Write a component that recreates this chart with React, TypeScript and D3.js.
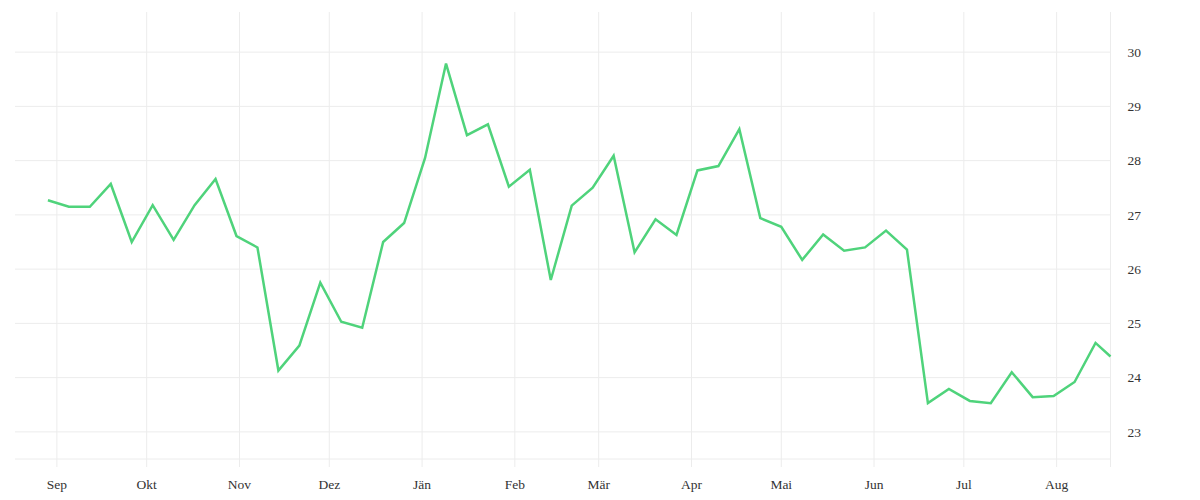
import React from "react";
import * as d3 from "d3";

const dates: string[] = [
  "2017-08-29", "2017-09-05", "2017-09-12", "2017-09-19", "2017-09-26",
  "2017-10-03", "2017-10-10", "2017-10-17", "2017-10-24", "2017-10-31",
  "2017-11-07", "2017-11-14", "2017-11-21", "2017-11-28", "2017-12-05",
  "2017-12-12", "2017-12-19", "2017-12-26", "2018-01-02", "2018-01-09",
  "2018-01-16", "2018-01-23", "2018-01-30", "2018-02-06", "2018-02-13",
  "2018-02-20", "2018-02-27", "2018-03-06", "2018-03-13", "2018-03-20",
  "2018-03-27", "2018-04-03", "2018-04-10", "2018-04-17", "2018-04-24",
  "2018-05-01", "2018-05-08", "2018-05-15", "2018-05-22", "2018-05-29",
  "2018-06-05", "2018-06-12", "2018-06-19", "2018-06-26", "2018-07-03",
  "2018-07-10", "2018-07-17", "2018-07-24", "2018-07-31", "2018-08-07",
  "2018-08-14", "2018-08-19",
];

const values: number[] = [
  27.27, 27.15, 27.15, 27.57, 26.5, 27.18, 26.54, 27.18, 27.66, 26.61,
  26.4, 24.13, 24.59, 25.75, 25.03, 24.92, 26.5, 26.85, 28.05, 29.79,
  28.47, 28.67, 27.52, 27.83, 25.8, 27.17, 27.5, 28.09, 26.31, 26.92,
  26.63, 27.82, 27.9, 28.58, 26.94, 26.78, 26.17, 26.64, 26.34, 26.4,
  26.71, 26.36, 23.53, 23.79, 23.57, 23.53, 24.1, 23.64, 23.66, 23.92,
  24.64, 24.39,
];

const monthTicks: string[] = [
  "2017-09-01", "2017-10-01", "2017-11-01", "2017-12-01", "2018-01-01",
  "2018-02-01", "2018-03-01", "2018-04-01", "2018-05-01", "2018-06-01",
  "2018-07-01", "2018-08-01",
];
const monthLabels: string[] = [
  "Sep", "Okt", "Nov", "Dez", "Jän", "Feb", "Mär", "Apr", "Mai", "Jun", "Jul", "Aug",
];
const yTicks: number[] = [23, 24, 25, 26, 27, 28, 29, 30];

const xDomain: string[] = ["2017-08-18", "2018-08-19"];
const yDomain: number[] = [22.5, 30.74];

const parse = d3.timeParse("%Y-%m-%d");

export default function App() {
  const W = 1200;
  const H = 500;
  const left = 15;
  const right = 1110.5;
  const top = 12;
  const bottom = 459;

  const x = d3
    .scaleTime()
    .domain(xDomain.map((d) => parse(d) as Date))
    .range([left, right]);
  const y = d3.scaleLinear().domain(yDomain).range([bottom, top]);

  const data = dates.map((d, i) => ({ date: parse(d) as Date, value: values[i] }));
  const line = d3
    .line<{ date: Date; value: number }>()
    .x((d) => x(d.date))
    .y((d) => y(d.value));

  const grid = "#ececec";
  const font = "'Liberation Serif', serif";

  return (
    <svg
      width={W}
      height={H}
      style={{ position: "absolute", left: 0, top: 0, background: "#fff" }}
    >
      {yTicks.map((t) => (
        <line
          key={"hy" + t}
          x1={left}
          x2={right}
          y1={y(t)}
          y2={y(t)}
          stroke={grid}
          strokeWidth={1}
        />
      ))}
      <line x1={left} x2={right} y1={bottom} y2={bottom} stroke={grid} strokeWidth={1} />
      {monthTicks.map((t) => {
        const xx = x(parse(t) as Date);
        return (
          <line
            key={"vx" + t}
            x1={xx}
            x2={xx}
            y1={top}
            y2={bottom + 8}
            stroke={grid}
            strokeWidth={1}
          />
        );
      })}
      <line x1={right} x2={right} y1={top} y2={bottom + 8} stroke={grid} strokeWidth={1} />
      <path
        d={line(data) || ""}
        fill="none"
        stroke="#4fd37b"
        strokeWidth={2.5}
        strokeLinejoin="miter"
      />
      {monthTicks.map((t, i) => (
        <text
          key={"lx" + t}
          x={x(parse(t) as Date)}
          y={489}
          textAnchor="middle"
          fontFamily={font}
          fontSize={13.5}
          fill="#333"
        >
          {monthLabels[i]}
        </text>
      ))}
      {yTicks.map((t) => (
        <text
          key={"ly" + t}
          x={right + 17}
          y={y(t)}
          dy="0.35em"
          fontFamily={font}
          fontSize={13.5}
          fill="#333"
        >
          {t}
        </text>
      ))}
    </svg>
  );
}
